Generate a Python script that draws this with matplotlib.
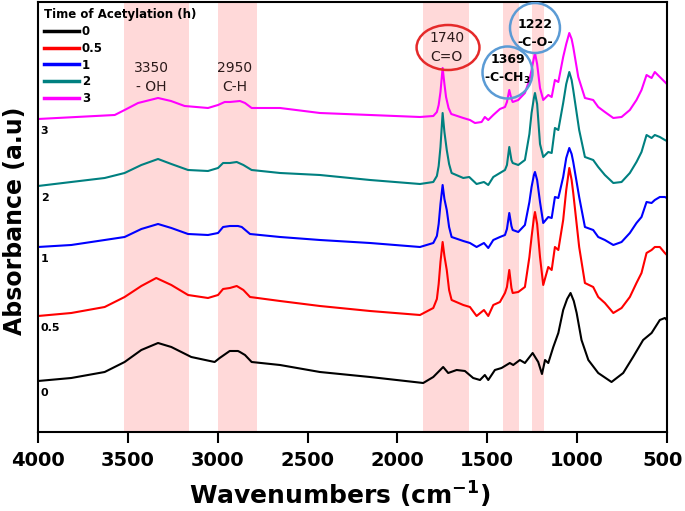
import matplotlib
matplotlib.use("Agg")
import matplotlib.pyplot as plt
import matplotlib.transforms as mtransforms
import numpy as np
from matplotlib.patches import Ellipse
from matplotlib.lines import Line2D

plt.rcParams['font.family'] = ['DejaVu Sans']

# spectra (wavenumber, absorbance a.u. incl. offset)
wn_3 = [4000, 3573, 3518, 3443, 3332, 3260, 3184, 3054, 2998, 2961, 2932, 2876, 2848, 2811, 2653, 2431, 2152,
        1874, 1800, 1780, 1770, 1760, 1748, 1738, 1729, 1715, 1700, 1633, 1596, 1568, 1531, 1513, 1494, 1466,
        1429, 1401, 1390, 1377, 1365, 1358, 1327, 1290, 1265, 1253, 1240, 1234, 1222, 1206, 1188, 1160, 1141,
        1123, 1104, 1077, 1060, 1043, 1030, 1021, 993, 956, 910, 882, 845, 798, 752, 706, 669, 641, 613, 585,
        567, 539, 511, 500]
abs_3 = [3.13, 3.17, 3.22, 3.29, 3.34, 3.31, 3.26, 3.24, 3.27, 3.30, 3.30, 3.31, 3.29, 3.24, 3.24, 3.19, 3.17,
         3.15, 3.16, 3.20, 3.27, 3.40, 3.64, 3.48, 3.35, 3.24, 3.18, 3.14, 3.12, 3.09, 3.10, 3.15, 3.12, 3.17,
         3.23, 3.25, 3.30, 3.42, 3.33, 3.30, 3.32, 3.39, 3.52, 3.62, 3.74, 3.79, 3.68, 3.44, 3.32, 3.37, 3.35,
         3.52, 3.50, 3.75, 3.88, 3.99, 3.93, 3.85, 3.55, 3.34, 3.32, 3.25, 3.20, 3.14, 3.15, 3.22, 3.32, 3.42,
         3.57, 3.54, 3.60, 3.55, 3.50, 3.48]

wn_2 = [4000, 3815, 3629, 3518, 3425, 3332, 3258, 3165, 3054, 2998, 2970, 2932, 2894, 2857, 2811, 2653, 2431,
        2152, 1874, 1800, 1780, 1770, 1760, 1748, 1738, 1725, 1712, 1698, 1633, 1600, 1559, 1518, 1494, 1466,
        1429, 1401, 1390, 1377, 1365, 1358, 1327, 1290, 1265, 1253, 1240, 1234, 1222, 1206, 1188, 1160, 1141,
        1123, 1104, 1077, 1060, 1043, 1030, 1021, 988, 956, 910, 882, 845, 798, 752, 706, 669, 641, 613, 585,
        567, 539, 511, 500]
abs_2 = [2.46, 2.50, 2.54, 2.59, 2.67, 2.73, 2.68, 2.62, 2.61, 2.64, 2.69, 2.69, 2.70, 2.67, 2.62, 2.59, 2.57,
         2.52, 2.48, 2.50, 2.56, 2.66, 2.85, 3.19, 3.00, 2.82, 2.68, 2.59, 2.54, 2.55, 2.48, 2.50, 2.47, 2.55,
         2.59, 2.62, 2.67, 2.85, 2.72, 2.69, 2.67, 2.72, 2.98, 3.19, 3.34, 3.39, 3.28, 2.88, 2.75, 2.80, 2.79,
         3.04, 3.02, 3.29, 3.48, 3.60, 3.52, 3.42, 3.02, 2.75, 2.72, 2.65, 2.57, 2.49, 2.50, 2.59, 2.70, 2.80,
         2.97, 2.94, 2.97, 2.95, 2.92, 2.91]

wn_1 = [4000, 3815, 3629, 3518, 3425, 3332, 3258, 3165, 3054, 2998, 2970, 2932, 2887, 2866, 2820, 2653, 2431,
        2152, 1874, 1800, 1780, 1770, 1760, 1748, 1738, 1725, 1712, 1698, 1633, 1596, 1559, 1518, 1494, 1466,
        1429, 1401, 1390, 1377, 1365, 1358, 1327, 1290, 1265, 1253, 1240, 1234, 1222, 1206, 1188, 1160, 1141,
        1123, 1104, 1077, 1060, 1043, 1030, 1021, 988, 956, 910, 882, 845, 798, 752, 706, 669, 641, 613, 585,
        567, 539, 511, 500]
abs_1 = [1.85, 1.87, 1.92, 1.95, 2.03, 2.08, 2.04, 1.98, 1.97, 1.99, 2.05, 2.06, 2.06, 2.05, 1.98, 1.95, 1.92,
         1.89, 1.85, 1.89, 1.96, 2.08, 2.28, 2.47, 2.33, 2.22, 2.05, 1.95, 1.91, 1.89, 1.85, 1.89, 1.84, 1.92,
         1.95, 1.97, 2.03, 2.19, 2.06, 2.02, 2.00, 2.07, 2.30, 2.45, 2.57, 2.60, 2.52, 2.30, 2.09, 2.15, 2.14,
         2.35, 2.34, 2.55, 2.74, 2.84, 2.78, 2.70, 2.35, 2.05, 2.02, 1.95, 1.92, 1.87, 1.90, 1.99, 2.09, 2.15,
         2.30, 2.29, 2.32, 2.35, 2.35, 2.34]

wn_05 = [4000, 3815, 3629, 3518, 3425, 3342, 3258, 3165, 3054, 2998, 2970, 2932, 2894, 2857, 2820, 2653, 2431,
         2152, 1874, 1800, 1780, 1770, 1760, 1748, 1738, 1725, 1712, 1698, 1633, 1596, 1559, 1518, 1494, 1466,
         1429, 1401, 1390, 1377, 1365, 1358, 1327, 1290, 1265, 1253, 1240, 1234, 1222, 1206, 1188, 1160, 1141,
         1123, 1104, 1077, 1060, 1043, 1030, 1021, 988, 956, 910, 882, 845, 798, 752, 706, 669, 641, 613, 585,
         567, 539, 511, 500]
abs_05 = [1.16, 1.19, 1.25, 1.35, 1.46, 1.54, 1.47, 1.37, 1.34, 1.37, 1.43, 1.44, 1.46, 1.42, 1.35, 1.31, 1.26,
          1.21, 1.17, 1.24, 1.33, 1.48, 1.70, 1.90, 1.76, 1.62, 1.42, 1.32, 1.27, 1.25, 1.16, 1.22, 1.16, 1.27,
          1.30, 1.39, 1.45, 1.62, 1.44, 1.39, 1.40, 1.45, 1.75, 1.95, 2.14, 2.20, 2.08, 1.75, 1.47, 1.65, 1.62,
          1.85, 1.82, 2.12, 2.42, 2.64, 2.52, 2.39, 1.85, 1.49, 1.45, 1.35, 1.29, 1.19, 1.24, 1.35, 1.49, 1.59,
          1.79, 1.82, 1.85, 1.85, 1.79, 1.77]

wn_0 = [4000, 3815, 3629, 3518, 3425, 3332, 3258, 3147, 3017, 2989, 2933, 2887, 2876, 2848, 2811, 2653, 2431,
        2152, 1856, 1800, 1745, 1717, 1670, 1624, 1578, 1540, 1513, 1494, 1457, 1420, 1374, 1355, 1318, 1290,
        1247, 1216, 1195, 1178, 1160, 1132, 1104, 1077, 1055, 1036, 1018, 1002, 975, 937, 882, 808, 743, 688,
        632, 585, 539, 511, 500]
abs_0 = [0.51, 0.54, 0.60, 0.70, 0.82, 0.89, 0.85, 0.75, 0.70, 0.74, 0.81, 0.81, 0.80, 0.77, 0.70, 0.67, 0.60,
         0.55, 0.49, 0.55, 0.65, 0.59, 0.62, 0.61, 0.54, 0.52, 0.57, 0.52, 0.62, 0.64, 0.69, 0.67, 0.72, 0.69,
         0.79, 0.70, 0.58, 0.72, 0.69, 0.85, 0.99, 1.22, 1.33, 1.39, 1.31, 1.19, 0.92, 0.72, 0.59, 0.50, 0.59,
         0.75, 0.92, 0.99, 1.12, 1.14, 1.12]

series = [("0", wn_0, abs_0, "black"),
          ("0.5", wn_05, abs_05, "#ff0000"),
          ("1", wn_1, abs_1, "#0000ff"),
          ("2", wn_2, abs_2, "#008080"),
          ("3", wn_3, abs_3, "#ff00ff")]

# highlighted bands (cm-1)
bands = [(3520, 3160), (3000, 2780), (1860, 1600), (1410, 1325), (1250, 1185)]

fig = plt.figure(figsize=(6.85, 5.11), dpi=100)
ax = fig.add_axes([0.0555, 0.1546, 0.918, 0.8415])

for hi, lo in bands:
    ax.axvspan(lo, hi, color="#ffd9d9", lw=0, zorder=0)

for lab, wn, a, c in series:
    ax.plot(wn, a, color=c, lw=1.5, zorder=2)
    ax.text(3985, a[0] - 0.07, lab, fontsize=8, fontweight="bold", va="top", ha="left")

ax.set_xlim(4000, 500)
ax.set_ylim(0, 4.30)
ax.set_xticks([4000, 3500, 3000, 2500, 2000, 1500, 1000, 500])
ax.set_yticks([])
ax.tick_params(axis="x", direction="out", length=8, width=1.5, labelsize=14, pad=6)
for t in ax.get_xticklabels():
    t.set_fontweight("bold")
# the last label sits against the figure edge, nudge it in a little
last = ax.get_xticklabels()[-1]
last.set_transform(last.get_transform() + mtransforms.ScaledTranslation(-3 / 72, 0, fig.dpi_scale_trans))
for s in ax.spines.values():
    s.set_linewidth(1.5)

ax.set_xlabel("Wavenumbers (cm$^{\\mathbf{-1}}$)", fontsize=18, fontweight="bold")
ax.xaxis.set_label_coords(0.48, -0.112)
ax.set_ylabel("Absorbance (a.u)", fontsize=17, fontweight="bold")
ax.yaxis.set_label_coords(-0.017, 0.49)

# band labels
txt_c = "#2b1a1a"
ax.text(3371, 3.64, "3350", fontsize=10, color=txt_c, ha="center", va="center")
ax.text(3371, 3.45, "- OH", fontsize=10, color=txt_c, ha="center", va="center")
ax.text(2904, 3.64, "2950", fontsize=10, color=txt_c, ha="center", va="center")
ax.text(2904, 3.45, "C-H", fontsize=10, color=txt_c, ha="center", va="center")
ax.text(1726, 3.94, "1740", fontsize=10, color=txt_c, ha="center", va="center")
ax.text(1726, 3.75, "C=O", fontsize=10, color=txt_c, ha="center", va="center")
ax.text(1234, 4.07, "1222", fontsize=9, fontweight="bold", ha="center", va="center")
ax.text(1234, 3.89, "-C-O-", fontsize=9, fontweight="bold", ha="center", va="center")
ax.text(1387, 3.72, "1369", fontsize=9, fontweight="bold", ha="center", va="center")
ax.text(1387, 3.54, "-C-CH$_\\mathbf{3}$", fontsize=9, fontweight="bold", ha="center", va="center")

ax.add_patch(Ellipse((1718, 3.845), 350, 0.45, fill=False, ec="#e52a2a", lw=1.8, zorder=4))
ax.add_patch(Ellipse((1234, 4.04), 278, 0.50, fill=False, ec="#5b9bd5", lw=1.8, zorder=4))
ax.add_patch(Ellipse((1387, 3.595), 278, 0.52, fill=False, ec="#5b9bd5", lw=1.8, zorder=4))

handles = [Line2D([], [], color=c, lw=2.5) for _, _, _, c in series]
leg = ax.legend(handles, [s[0] for s in series], title="Time of Acetylation (h)", loc="upper left",
                bbox_to_anchor=(0.0, 1.0), frameon=False, fontsize=8.5, handlelength=3.0,
                handletextpad=0.2, labelspacing=0.33, borderaxespad=0.2, borderpad=0.3,
                alignment="left", title_fontproperties={"weight": "bold", "size": 8.5})
for t in leg.get_texts():
    t.set_fontweight("bold")

fig.savefig("out.png", dpi=100)
